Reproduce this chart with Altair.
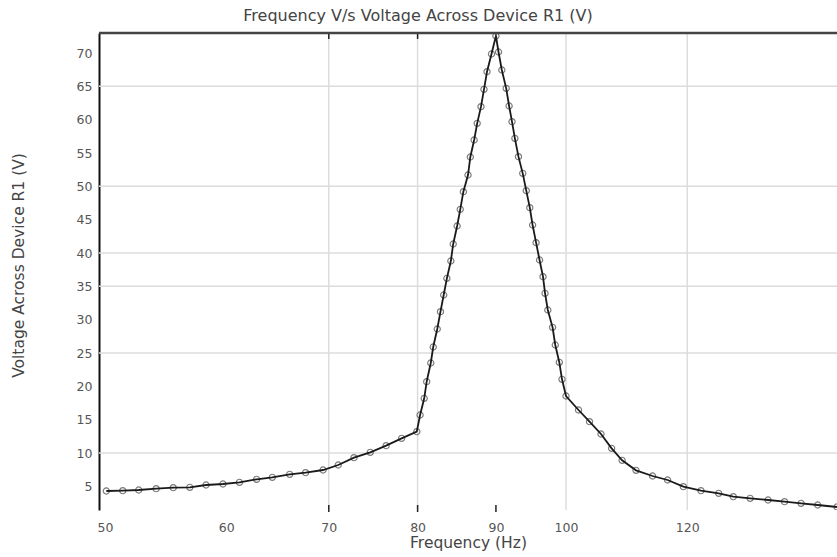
import altair as alt
import pandas as pd

# Frequency (Hz) and voltage (V)
freq = [50.1, 51.35, 52.6, 54.0, 55.4, 56.8, 58.2, 59.7, 61.2, 62.8, 64.3, 66.0, 67.6, 69.4,
        71.0, 72.7, 74.5, 76.3, 78.1, 79.9,
        80.3, 80.8, 81.1, 81.6, 81.9, 82.4, 82.8, 83.2, 83.6, 84.1, 84.4, 84.9, 85.3, 85.7,
        86.3, 86.6, 87.1, 87.5, 88.0, 88.4, 88.8, 89.4, 90.0,
        90.35, 90.8, 91.4, 91.8, 92.2, 92.6, 93.1, 93.7, 94.2, 94.7, 95.1, 95.6, 96.1, 96.6,
        96.9, 97.3, 98.0, 98.4, 99.0, 99.4, 100.0,
        101.9, 103.6, 105.4, 107.1, 108.8, 111.1, 113.9, 116.5, 119.3, 122.5, 125.8, 128.6,
        131.9, 135.5, 138.9, 142.4, 146.0, 150.3]
volt = [4.3, 4.35, 4.45, 4.65, 4.8, 4.85, 5.2, 5.35, 5.6, 6.05, 6.35, 6.8, 7.05, 7.45,
        8.2, 9.3, 10.1, 11.1, 12.2, 13.2,
        15.7, 18.2, 20.7, 23.5, 25.9, 28.6, 31.2, 33.7, 36.2, 38.8, 41.35, 44.05, 46.55, 49.2,
        51.7, 54.4, 56.95, 59.45, 61.95, 64.55, 67.2, 69.85, 72.55,
        70.15, 67.45, 64.7, 62.05, 59.7, 57.2, 54.45, 51.95, 49.35, 46.8, 44.2, 41.55, 38.95, 36.45,
        33.95, 31.45, 28.85, 26.2, 23.6, 21.05, 18.55,
        16.45, 14.7, 12.85, 10.7, 8.9, 7.4, 6.55, 5.95, 4.95, 4.35, 3.95, 3.45,
        3.2, 2.95, 2.7, 2.45, 2.2, 1.9]

x_ticks = [50, 60, 70, 80, 90, 100, 120]
y_ticks = [5, 10, 15, 20, 25, 30, 35, 40, 45, 50, 55, 60, 65, 70]
grid_x = [70, 80, 100, 120]
grid_y = [10, 25, 35, 40, 50, 65]
tick_marks = [70, 80, 90]

FONT = "DejaVu Sans"
W, H = 738, 477

df = pd.DataFrame({"f": freq, "v": volt})
xs = alt.Scale(type="log", domain=[49.55, 150.3], nice=False)
ys = alt.Scale(domain=[1.45, 73.0], nice=False, zero=False)

x_axis = alt.Axis(values=x_ticks, title="Frequency (Hz)", grid=False, ticks=False,
                  domain=False, labelPadding=11, titlePadding=2, format="d",
                  labelFont=FONT, labelFontSize=12.5, labelColor="#555",
                  titleFont=FONT, titleFontSize=15.5, titleFontWeight="normal",
                  titleColor="#444")
y_axis = alt.Axis(values=y_ticks, title="Voltage Across Device R1 (V)", grid=False,
                  ticks=False, domainColor="#111", domainWidth=2, labelPadding=7,
                  format="d", labelFont=FONT, labelFontSize=12.5, labelColor="#555",
                  titleFont=FONT, titleFontSize=15.5, titleFontWeight="normal",
                  titleColor="#444", titleX=-81, titleY=232, titleAngle=-90,
                  titleAlign="center", titleBaseline="middle")

gx = alt.Chart(pd.DataFrame({"f": grid_x})).mark_rule(color="#dcdcdc", strokeWidth=1.5).encode(
    x=alt.X("f:Q", scale=xs, axis=x_axis)
)
gy = alt.Chart(pd.DataFrame({"v": grid_y})).mark_rule(color="#dcdcdc", strokeWidth=1.5).encode(
    y=alt.Y("v:Q", scale=ys, axis=y_axis)
)

pts = alt.Chart(df).mark_point(shape="circle", size=38, filled=False, stroke="#444",
                               strokeWidth=1.2, clip=True).encode(
    x=alt.X("f:Q", scale=xs, axis=x_axis),
    y=alt.Y("v:Q", scale=ys, axis=y_axis),
)

line = alt.Chart(df).mark_line(color="#1a1a1a", strokeWidth=1.8, clip=True).encode(
    x=alt.X("f:Q", scale=xs, axis=x_axis),
    y=alt.Y("v:Q", scale=ys, axis=y_axis),
)

bticks = alt.Chart(pd.DataFrame({"f": tick_marks})).mark_rule(color="#222", strokeWidth=1.5).encode(
    x=alt.X("f:Q", scale=xs, axis=x_axis), y=alt.value(H - 5), y2=alt.value(H + 2)
)
tticks = alt.Chart(pd.DataFrame({"f": tick_marks})).mark_rule(color="#222", strokeWidth=1.5).encode(
    x=alt.X("f:Q", scale=xs, axis=x_axis), y=alt.value(0), y2=alt.value(6)
)
top = alt.Chart(pd.DataFrame({"a": [0]})).mark_rule(color="#444", strokeWidth=2.5).encode(
    x=alt.value(0), x2=alt.value(W), y=alt.value(0)
)

chart = alt.layer(gx, gy, pts, line, bticks, tticks, top).properties(
    width=W, height=H,
    autosize=alt.AutoSizeParams(type="none"),
    padding={"left": 99, "top": 33, "right": 0, "bottom": 47},
    title=alt.TitleParams("Frequency V/s Voltage Across Device R1 (V)", anchor="middle",
                          dx=-50, offset=8, fontSize=16, fontWeight="normal",
                          font=FONT, color="#444"),
).configure_view(stroke=None)

chart.save("out.html", embed_options={"renderer": "svg", "actions": False})
